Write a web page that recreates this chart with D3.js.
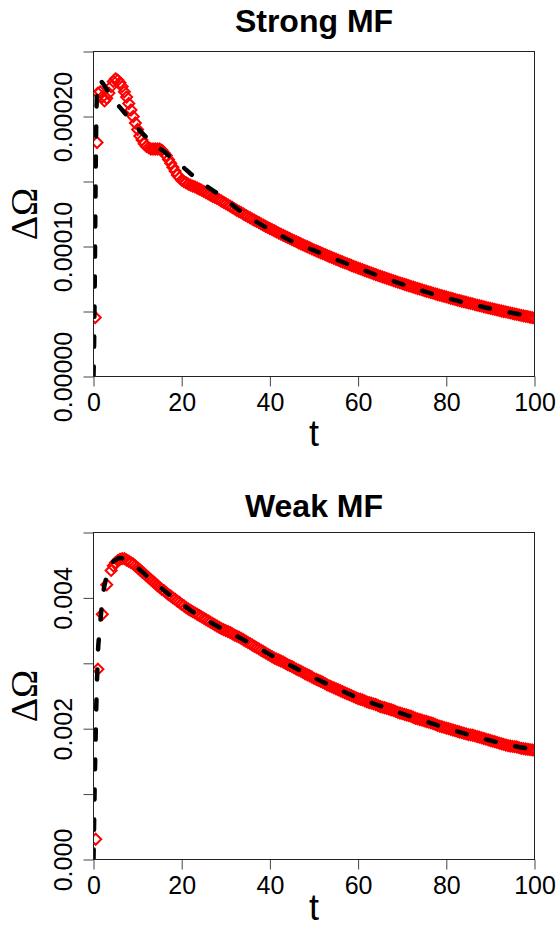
<!DOCTYPE html>
<html><head><meta charset="utf-8">
<script src="https://cdn.jsdelivr.net/npm/d3@7"></script>
<style>html,body{margin:0;padding:0;background:#fff}svg{display:block}</style>
</head><body>
<script>
// ---------------- data ----------------
const titles = ["Strong MF", "Weak MF"];
const xLabel = "t";
const yLabel = "ΔΩ";
const xDomain = [0, 100];
const xTicks = [0, 20, 40, 60, 80, 100];

const strongYMax = 2.5e-4;
const strongYTicks = [0, 5e-5, 1e-4, 1.5e-4, 2e-4, 2.5e-4];
const strongYLabels = ["0.00000", "", "0.00010", "", "0.00020", ""];
const weakYMax = 5e-3;
const weakYTicks = [0, 1e-3, 2e-3, 3e-3, 4e-3, 5e-3];
const weakYLabels = ["0.000", "", "0.002", "", "0.004", ""];

// common sampling times of the dense red diamonds
const gridT = [
 1,1.5,2,2.5,3,3.5,4,4.5,5,5.5,6,6.5,7,7.5,8,8.5,9,9.5,10,
 10.5,11,11.5,12,12.5,13,13.5,14,14.5,15,15.5,16,16.5,17,17.5,18,18.5,19,19.5,20,
 20.5,21,21.5,22,22.5,23,23.5,24,24.5,25,25.5,26,26.5,27,27.5,28,28.5,29,29.5,30,
 30.5,31,31.5,32,32.5,33,33.5,34,34.5,35,35.5,36,36.5,37,37.5,38,38.5,39,39.5,40,
 40.5,41,41.5,42,42.5,43,43.5,44,44.5,45,45.5,46,46.5,47,47.5,48,48.5,49,49.5,50,
 50.5,51,51.5,52,52.5,53,53.5,54,54.5,55,55.5,56,56.5,57,57.5,58,58.5,59,59.5,60,
 60.5,61,61.5,62,62.5,63,63.5,64,64.5,65,65.5,66,66.5,67,67.5,68,68.5,69,69.5,70,
 70.5,71,71.5,72,72.5,73,73.5,74,74.5,75,75.5,76,76.5,77,77.5,78,78.5,79,79.5,80,
 80.5,81,81.5,82,82.5,83,83.5,84,84.5,85,85.5,86,86.5,87,87.5,88,88.5,89,89.5,90,
 90.5,91,91.5,92,92.5,93,93.5,94,94.5,95,95.5,96,96.5,97,97.5,98,98.5,99,99.5,100
];

// Strong MF: red diamonds
const strongEarlyT = [0.4, 0.8];
const strongEarlyV = [4.54e-5, 18.0e-5];
const strongRedV = [
 21.8e-5,21.9e-5,21.5e-5,21.2e-5,21.4e-5,21.8e-5,22.3e-5,22.7e-5,22.9e-5,22.8e-5,22.6e-5,22.3e-5,21.9e-5,21.5e-5,21.0e-5,20.5e-5,20.0e-5,19.5e-5,19.0e-5,
 18.5e-5,18.2e-5,17.9e-5,17.7e-5,17.6e-5,17.5e-5,17.5e-5,17.5e-5,17.5e-5,17.5e-5,17.4e-5,17.2e-5,17.0e-5,16.7e-5,16.4e-5,16.1e-5,15.8e-5,15.5e-5,15.3e-5,15.1e-5,
 15.0e-5,14.9e-5,14.8e-5,14.72e-5,14.65e-5,14.58e-5,14.5e-5,14.42e-5,14.33e-5,14.24e-5,14.15e-5,14.05e-5,13.95e-5,13.85e-5,13.78e-5,13.7e-5,13.6e-5,13.5e-5,13.4e-5,13.3e-5,
 13.20e-5,13.10e-5,13.00e-5,12.89e-5,12.79e-5,12.69e-5,12.60e-5,12.50e-5,12.40e-5,12.30e-5,12.21e-5,12.11e-5,12.02e-5,11.93e-5,11.84e-5,11.74e-5,11.65e-5,11.56e-5,11.47e-5,11.38e-5,
 11.30e-5,11.21e-5,11.12e-5,11.03e-5,10.95e-5,10.86e-5,10.78e-5,10.70e-5,10.62e-5,10.53e-5,10.45e-5,10.37e-5,10.29e-5,10.21e-5,10.13e-5,10.05e-5,9.98e-5,9.90e-5,9.82e-5,9.74e-5,
 9.67e-5,9.59e-5,9.52e-5,9.45e-5,9.38e-5,9.30e-5,9.23e-5,9.16e-5,9.09e-5,9.02e-5,8.95e-5,8.88e-5,8.81e-5,8.74e-5,8.68e-5,8.61e-5,8.54e-5,8.47e-5,8.41e-5,8.34e-5,
 8.28e-5,8.22e-5,8.15e-5,8.09e-5,8.03e-5,7.97e-5,7.90e-5,7.84e-5,7.78e-5,7.72e-5,7.66e-5,7.60e-5,7.55e-5,7.49e-5,7.43e-5,7.37e-5,7.32e-5,7.26e-5,7.20e-5,7.15e-5,
 7.09e-5,7.04e-5,6.98e-5,6.93e-5,6.88e-5,6.82e-5,6.77e-5,6.72e-5,6.67e-5,6.61e-5,6.56e-5,6.51e-5,6.46e-5,6.41e-5,6.36e-5,6.31e-5,6.26e-5,6.21e-5,6.17e-5,6.12e-5,
 6.07e-5,6.02e-5,5.98e-5,5.93e-5,5.88e-5,5.84e-5,5.79e-5,5.75e-5,5.71e-5,5.66e-5,5.62e-5,5.58e-5,5.53e-5,5.49e-5,5.45e-5,5.41e-5,5.36e-5,5.32e-5,5.28e-5,5.24e-5,
 5.20e-5,5.16e-5,5.12e-5,5.08e-5,5.04e-5,5.00e-5,4.97e-5,4.93e-5,4.89e-5,4.85e-5,4.81e-5,4.78e-5,4.74e-5,4.70e-5,4.67e-5,4.63e-5,4.60e-5,4.56e-5,4.53e-5,4.49e-5
];
// Strong MF: black dashed curve
const strongBlackT = [0,0.15,0.3,0.45,0.6,0.8,1.1,1.4,2,3,4,5,6,8,10,12,14,16,18,20,22,25,28,30,33,36,40,45,50,55,60,65,70,75,80,85,90,95,100];
const strongBlackV = [0,3e-5,8e-5,14e-5,19e-5,21.8e-5,22.7e-5,22.8e-5,22.6e-5,22.1e-5,21.6e-5,21.1e-5,20.7e-5,19.9e-5,19.1e-5,18.4e-5,17.8e-5,17.3e-5,16.7e-5,16.2e-5,15.6e-5,14.8e-5,14.1e-5,13.6e-5,12.8e-5,12.1e-5,11.3e-5,10.4e-5,9.7e-5,9.0e-5,8.35e-5,7.7e-5,7.1e-5,6.55e-5,6.05e-5,5.62e-5,5.22e-5,4.88e-5,4.58e-5];

// Weak MF: red diamonds (null = no sample at that time)
const weakEarlyT = [0.5];
const weakEarlyV = [0.31e-3];
const weakRedV = [
 2.91e-3,null,3.75e-3,null,4.20e-3,null,4.42e-3,4.49e-3,4.54e-3,4.57e-3,4.59e-3,4.60e-3,4.60e-3,4.58e-3,4.56e-3,4.54e-3,4.52e-3,4.49e-3,4.46e-3,
 4.43e-3,4.40e-3,4.37e-3,4.34e-3,4.31e-3,4.28e-3,4.25e-3,4.22e-3,4.19e-3,4.16e-3,4.13e-3,4.11e-3,4.08e-3,4.05e-3,4.03e-3,4.00e-3,3.98e-3,3.95e-3,3.93e-3,3.90e-3,
 3.88e-3,3.85e-3,3.83e-3,3.81e-3,3.79e-3,3.77e-3,3.75e-3,3.73e-3,3.71e-3,3.69e-3,3.67e-3,3.65e-3,3.63e-3,3.61e-3,3.59e-3,3.57e-3,3.55e-3,3.53e-3,3.515e-3,3.50e-3,
 3.485e-3,3.47e-3,3.45e-3,3.43e-3,3.415e-3,3.40e-3,3.38e-3,3.36e-3,3.34e-3,3.32e-3,3.30e-3,3.28e-3,3.26e-3,3.24e-3,3.22e-3,3.20e-3,3.18e-3,3.16e-3,3.14e-3,3.12e-3,
 3.10e-3,3.08e-3,3.065e-3,3.05e-3,3.035e-3,3.02e-3,3.00e-3,2.98e-3,2.965e-3,2.95e-3,2.93e-3,2.91e-3,2.895e-3,2.88e-3,2.86e-3,2.84e-3,2.825e-3,2.81e-3,2.79e-3,2.77e-3,
 2.755e-3,2.74e-3,2.725e-3,2.71e-3,2.69e-3,2.67e-3,2.655e-3,2.64e-3,2.625e-3,2.61e-3,2.595e-3,2.58e-3,2.565e-3,2.55e-3,2.535e-3,2.52e-3,2.505e-3,2.49e-3,2.475e-3,2.46e-3,
 2.45e-3,2.44e-3,2.425e-3,2.41e-3,2.40e-3,2.39e-3,2.38e-3,2.37e-3,2.355e-3,2.34e-3,2.33e-3,2.32e-3,2.31e-3,2.30e-3,2.29e-3,2.28e-3,2.265e-3,2.25e-3,2.24e-3,2.23e-3,
 2.22e-3,2.21e-3,2.20e-3,2.19e-3,2.175e-3,2.16e-3,2.15e-3,2.14e-3,2.13e-3,2.12e-3,2.11e-3,2.10e-3,2.09e-3,2.08e-3,2.065e-3,2.05e-3,2.04e-3,2.03e-3,2.02e-3,2.01e-3,
 2.00e-3,1.99e-3,1.98e-3,1.97e-3,1.96e-3,1.95e-3,1.94e-3,1.93e-3,1.92e-3,1.91e-3,1.905e-3,1.90e-3,1.89e-3,1.88e-3,1.87e-3,1.86e-3,1.85e-3,1.84e-3,1.83e-3,1.82e-3,
 1.81e-3,1.80e-3,1.79e-3,1.78e-3,1.77e-3,1.76e-3,1.75e-3,1.74e-3,1.735e-3,1.73e-3,1.725e-3,1.72e-3,1.71e-3,1.70e-3,1.695e-3,1.69e-3,1.685e-3,1.68e-3,1.675e-3,1.67e-3
];
// Weak MF: black dashed curve
const weakBlackT = [0,0.1,0.2,0.3,0.45,0.6,0.8,1,1.4,2,3,4,5,6,7,8,10,12,15,18,20,22,25,28,30,34,38,42,46,50,55,60,65,70,75,80,85,90,95,100];
const weakBlackV = [0,0.4e-3,0.85e-3,1.25e-3,1.75e-3,2.25e-3,2.75e-3,3.15e-3,3.5e-3,3.97e-3,4.33e-3,4.51e-3,4.58e-3,4.61e-3,4.6e-3,4.56e-3,4.46e-3,4.34e-3,4.17e-3,4.01e-3,3.91e-3,3.81e-3,3.69e-3,3.57e-3,3.50e-3,3.36e-3,3.21e-3,3.06e-3,2.92e-3,2.78e-3,2.62e-3,2.47e-3,2.35e-3,2.23e-3,2.12e-3,2.01e-3,1.91e-3,1.82e-3,1.74e-3,1.68e-3];

// ---------------- drawing ----------------
const W = 559, H = 928;
const SANS = "'Liberation Sans', Arial, Helvetica, sans-serif";
const SERIF = "'Liberation Serif', 'Times New Roman', serif";

const svg = d3.select("body").append("svg").attr("width", W).attr("height", H);
svg.append("rect").attr("width", W).attr("height", H).attr("fill", "#fff");

const panels = [
  { title: titles[0], box: {l: 93.5, r: 534.5, t: 51.5, b: 376.5}, titleY: 32, xLabY: 446,
    yMax: strongYMax, yTicks: strongYTicks, yLabels: strongYLabels,
    redT: strongEarlyT.concat(gridT), redV: strongEarlyV.concat(strongRedV),
    blackT: strongBlackT, blackV: strongBlackV },
  { title: titles[1], box: {l: 93.5, r: 534.5, t: 532.5, b: 859.5}, titleY: 517, xLabY: 920,
    yMax: weakYMax, yTicks: weakYTicks, yLabels: weakYLabels,
    redT: weakEarlyT.concat(gridT), redV: weakEarlyV.concat(weakRedV),
    blackT: weakBlackT, blackV: weakBlackV }
];

const diamond = "M0,-5.5L5.5,0L0,5.5L-5.5,0Z";

panels.forEach((p, i) => {
  const b = p.box;
  const x = d3.scaleLinear().domain(xDomain).range([b.l, b.r]);
  const y = d3.scaleLinear().domain([0, p.yMax]).range([b.b, b.t]);
  const g = svg.append("g");

  const clipId = "clip" + i;
  svg.append("clipPath").attr("id", clipId).append("rect")
    .attr("x", b.l).attr("y", b.t).attr("width", b.r - b.l).attr("height", b.b - b.t);
  const plot = g.append("g").attr("clip-path", `url(#${clipId})`);

  const pts = p.redT.map((t, k) => ({t, v: p.redV[k]})).filter(d => d.v != null);
  plot.append("g").selectAll("path").data(pts).join("path")
    .attr("d", diamond)
    .attr("transform", d => `translate(${x(d.t)},${y(d.v)})`)
    .attr("fill", "none").attr("stroke", "#ff0000").attr("stroke-width", 2);

  const blk = p.blackT.map((t, k) => ({t, v: p.blackV[k]}));
  plot.append("path").datum(blk)
    .attr("d", d3.line().x(d => x(d.t)).y(d => y(d.v)).curve(d3.curveMonotoneX))
    .attr("fill", "none").attr("stroke", "#000").attr("stroke-width", 4.5)
    .attr("stroke-dasharray", "10 20").attr("stroke-linecap", "round").attr("stroke-linejoin", "round");

  // x axis
  const xa = g.append("g").attr("transform", `translate(0,${b.b})`)
    .call(d3.axisBottom(x).tickValues(xTicks).tickSize(10).tickSizeOuter(0).tickPadding(7).tickFormat(d3.format("d")));
  xa.select(".domain").remove();
  xa.attr("font-size", 25).attr("font-family", SANS);
  xa.selectAll("line").attr("stroke", "#444");
  xa.selectAll("text").attr("fill", "#000");

  // y axis
  const ya = g.append("g").attr("transform", `translate(${b.l},0)`)
    .call(d3.axisLeft(y).tickValues(p.yTicks).tickSize(10).tickSizeOuter(0).tickFormat((d, k) => p.yLabels[k]));
  ya.select(".domain").remove();
  ya.attr("font-size", 25).attr("font-family", SANS);
  ya.selectAll("line").attr("stroke", "#444");
  ya.selectAll("text").attr("fill", "#000").attr("x", null).attr("dy", null)
    .attr("text-anchor", "middle").attr("transform", "translate(-21.5,0) rotate(-90)");

  // box
  g.append("rect").attr("x", b.l).attr("y", b.t).attr("width", b.r - b.l).attr("height", b.b - b.t)
    .attr("fill", "none").attr("stroke", "#222").attr("stroke-width", 1);

  const cx = (b.l + b.r) / 2;
  g.append("text").attr("x", cx).attr("y", p.titleY).attr("text-anchor", "middle")
    .attr("font-family", SANS).attr("font-weight", "bold").attr("font-size", 32).text(p.title);
  g.append("text").attr("x", cx).attr("y", p.xLabY).attr("text-anchor", "middle")
    .attr("font-family", SANS).attr("font-size", 36).text(xLabel);
  const cy = (b.t + b.b) / 2;
  g.append("text").attr("transform", `translate(37,${cy}) rotate(-90)`).attr("text-anchor", "middle")
    .attr("font-family", SERIF).attr("font-size", 38).text(yLabel);
});
</script>
</body></html>
